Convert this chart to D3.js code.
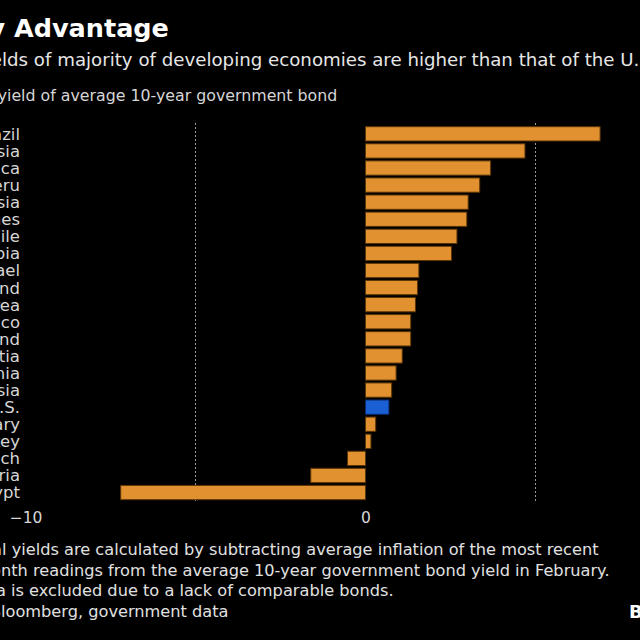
<!DOCTYPE html>
<html>
<head>
<meta charset="utf-8">
<script src="https://cdn.jsdelivr.net/npm/d3@7/dist/d3.min.js"></script>
<style>
  body { margin: 0; background: #000; }
  svg { display: block; background: #000; }
  text { font-family: "DejaVu Sans", sans-serif; }
</style>
</head>
<body>
<svg width="640" height="640"></svg>
<script>
// data (Feb real yields, %)
const countries = ["Brazil", "Russia", "South Africa", "Peru", "Indonesia", "Philippines", "Chile",
  "Colombia", "Israel", "Poland", "South Korea", "Mexico", "Thailand", "Croatia", "Romania",
  "Malaysia", "U.S.", "Hungary", "Turkey", "Czech", "Bulgaria", "Egypt"];
const realYields = [6.9, 4.69, 3.68, 3.36, 3.02, 2.98, 2.69, 2.53, 1.57, 1.53, 1.47, 1.33, 1.33,
  1.08, 0.9, 0.77, 0.69, 0.3, 0.16, -0.53, -1.61, -7.2];
const tickValues = [-10, 0, 10];
const gridValues = [-5, 5];
const highlight = "U.S.";

const titleText = "Carry Advantage";
const subtitleText = "Real yields of majority of developing economies are higher than that of the U.S.";
const axisTitle = "Real yield of average 10-year government bond";
const notes = [
  "Note: Real yields are calculated by subtracting average inflation of the most recent",
  "three-month readings from the average 10-year government bond yield in February.",
  "China is excluded due to a lack of comparable bonds.",
  "Source: Bloomberg, government data"
];
// where each note line shows up at the cropped left edge
const noteAnchors = [["l yields", 2], ["nth readings", 1], ["is excluded", 11], ["loomberg", 1]];

const svg = d3.select("svg");
const data = countries.map((c, i) => ({ country: c, value: realYields[i] }));

// scales
const x = d3.scaleLinear().domain([-10, 10]).range([25.5, 705.5]);
const y = d3.scaleBand().domain(countries).range([126.7, 499.7]).paddingInner(0.163).paddingOuter(0);

// places text so that the char at index `idx` starts at xPos (the page is cropped on the left)
function placeAt(sel, idx, xPos) {
  const node = sel.node();
  const off = idx > 0 ? node.getSubStringLength(0, idx) : 0;
  sel.attr("x", xPos - off);
}

// title block
const title = svg.append("text").attr("y", 37).attr("fill", "#fff")
  .attr("font-size", 25.5).attr("font-weight", "bold").text(titleText);
placeAt(title, titleText.indexOf("Advantage"), 14);

const sub = svg.append("text").attr("y", 66).attr("fill", "#e6e6e6")
  .attr("font-size", 18.2).text(subtitleText);
placeAt(sub, subtitleText.indexOf("lds of"), 2);

const at = svg.append("text").attr("y", 101).attr("fill", "#d6d6d6")
  .attr("font-size", 15.8).text(axisTitle);
placeAt(at, axisTitle.indexOf("ield"), 7);

// dotted gridlines
svg.selectAll("line.grid").data(gridValues).join("line")
  .attr("class", "grid")
  .attr("x1", d => x(d)).attr("x2", d => x(d))
  .attr("y1", 123).attr("y2", 502)
  .attr("stroke", "#9a9a9a").attr("stroke-width", 1).attr("stroke-dasharray", "2,2");

// bars
svg.selectAll("rect.bar").data(data).join("rect")
  .attr("class", "bar")
  .attr("x", d => x(Math.min(0, d.value)))
  .attr("y", d => y(d.country))
  .attr("width", d => Math.abs(x(d.value) - x(0)))
  .attr("height", y.bandwidth())
  .attr("fill", d => d.country === highlight ? "#1b5fd4" : "#e29130")
  .attr("stroke", d => d.country === highlight ? "#0b2a66" : "#5a3508")
  .attr("stroke-width", 1);

// category labels
svg.selectAll("text.cat").data(data).join("text")
  .attr("class", "cat")
  .attr("x", 20)
  .attr("y", d => y(d.country) + y.bandwidth() / 2)
  .attr("dy", "0.36em")
  .attr("text-anchor", "end")
  .attr("fill", "#d6d6d6")
  .attr("font-size", 16.5)
  .text(d => d.country);

// x axis labels
const xAxis = d3.axisBottom(x).tickValues(tickValues).tickSize(0).tickPadding(0);
const ax = svg.append("g").attr("transform", "translate(0,512)").call(xAxis);
ax.select(".domain").remove();
ax.selectAll("text").attr("fill", "#d6d6d6").attr("font-size", 15.5)
  .style("font-family", "'DejaVu Sans', sans-serif");

// footnotes
svg.selectAll("text.note").data(notes).join("text")
  .attr("class", "note")
  .attr("y", (d, i) => 555 + i * 20.5)
  .attr("fill", "#e0e0e0")
  .attr("font-size", 16.2)
  .text(d => d)
  .each(function(d, i) {
    const [key, pos] = noteAnchors[i];
    placeAt(d3.select(this), d.indexOf(key), pos);
  });

// logo
svg.append("text").attr("x", 629).attr("y", 618).attr("fill", "#fff")
  .attr("font-size", 18).attr("font-weight", "bold").text("Bloomberg");
</script>
</body>
</html>
